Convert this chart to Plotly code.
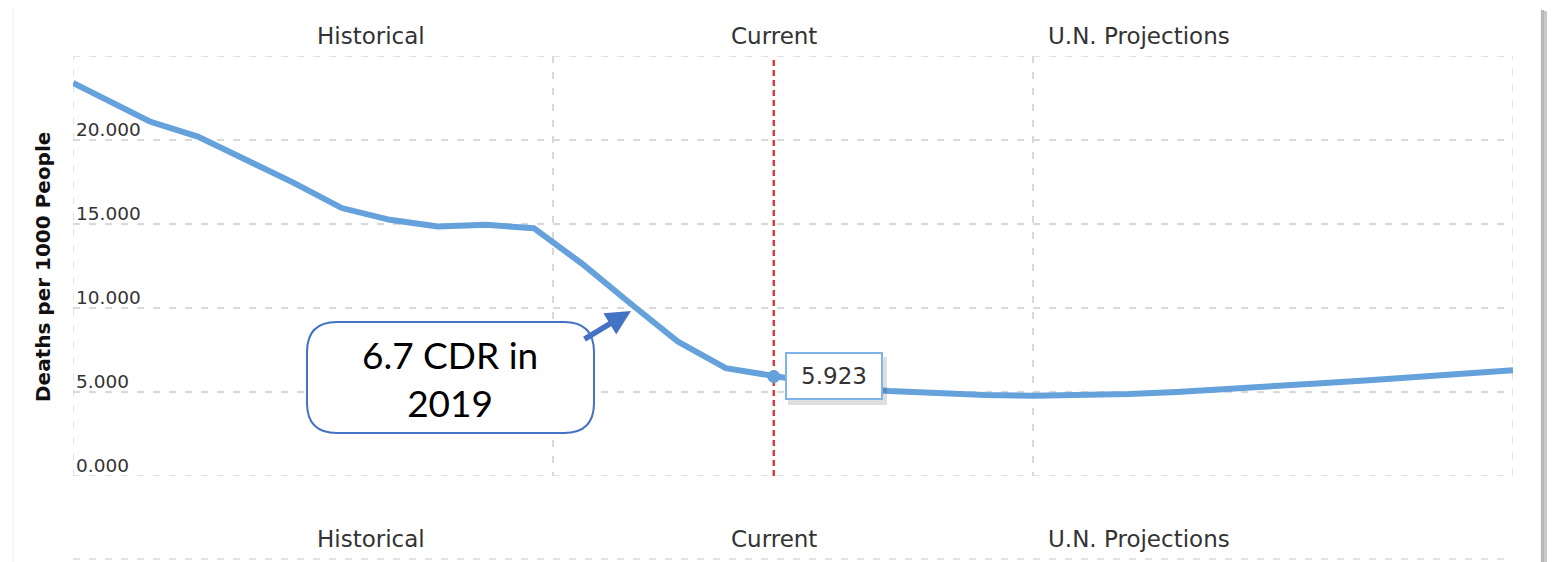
import plotly.graph_objects as go

# ---------------- data ----------------
years = [1950, 1958, 1963, 1968, 1973, 1978, 1983, 1988, 1993, 1998,
         2003, 2008, 2013, 2018, 2023, 2025, 2030, 2035, 2040, 2045,
         2050, 2055, 2060, 2065, 2070, 2075, 2080, 2085, 2090, 2095, 2100]
death_rate = [23.4, 21.1, 20.2, 18.8, 17.45, 15.95, 15.25, 14.85, 14.95, 14.75,
              12.65, 10.3, 8.0, 6.42, 5.923, 5.72, 5.3, 5.06, 4.93, 4.82,
              4.78, 4.8, 4.88, 5.0, 5.15, 5.32, 5.52, 5.7, 5.92, 6.1, 6.3]
current_year = 2023
current_value = 5.923
y_ticks = [0, 5, 10, 15, 20, 25]
y_tick_text = ["0.000", "5.000", "10.000", "15.000", "20.000", ""]
x_grid = [1950, 2000, 2050, 2100]
band_labels = ["Historical", "Current", "U.N. Projections"]
band_label_x = [1981, 2023, 2061]
callout_text = "6.7 CDR in<br>2019"
y_title = "Deaths per 1000 People"

# ---------------- layout geometry (page pixels, body has 8px margin) ----------------
OFF = 8
W, H = 1555 - OFF, 562 - OFF
PL, PR, PT, PB = 73, 1513, 56, 476          # plot area in page pixels
ML, MT = PL - OFF, PT - OFF
MR = W - (PR - OFF)
MB = H - (PB - OFF)
PW = PR - PL
PH = PB - PT


def px(x):
    return (x - PL) / PW


def py(y):
    return (PB - y) / PH


LINE_COLOR = "#65A1DB"
GRID_COLOR = "#d9d9d9"
GRID_DASH = "7px,9px"
TXT = "DejaVu Sans"

fig = go.Figure()
fig.add_trace(go.Scatter(
    x=years, y=death_rate, mode="lines",
    line=dict(color=LINE_COLOR, width=6),
    hoverinfo="skip", showlegend=False,
))
fig.add_trace(go.Scatter(
    x=[current_year], y=[current_value], mode="markers",
    marker=dict(color=LINE_COLOR, size=13, symbol="circle"),
    hoverinfo="skip", showlegend=False,
))

shapes = []
# card border
shapes.append(dict(type="rect", xref="paper", yref="paper",
                   x0=px(13), x1=px(1541), y0=py(620), y1=py(5),
                   line=dict(color="#ededed", width=1), layer="below"))
# card shadow on the right
for i, c in enumerate(["#b8b8b8", "#c8c8c8", "#d8d8d8", "#e8e8e8"]):
    shapes.append(dict(type="rect", xref="paper", yref="paper",
                       x0=px(1541 + 3 * i), x1=px(1544 + 3 * i),
                       y0=py(620), y1=py(10 + i),
                       line=dict(width=0), fillcolor=c, layer="below"))
# frame gridlines at the range edges
for yv in (y_ticks[0], y_ticks[-1]):
    shapes.append(dict(type="line", xref="paper", yref="y", x0=0, x1=1,
                       y0=yv, y1=yv, layer="below",
                       line=dict(color=GRID_COLOR, width=1.5, dash=GRID_DASH)))
for xv in (x_grid[0], x_grid[-1]):
    shapes.append(dict(type="line", xref="x", yref="paper", x0=xv, x1=xv,
                       y0=0, y1=1, layer="below",
                       line=dict(color=GRID_COLOR, width=1.5, dash=GRID_DASH)))
# current year vertical line
shapes.append(dict(type="line", xref="x", yref="paper",
                   x0=current_year, x1=current_year, y0=0, y1=1,
                   line=dict(color="#d23c3c", width=2.5, dash="6px,4px"),
                   layer="between"))
# lower (cropped) second chart gridline
shapes.append(dict(type="line", xref="paper", yref="paper",
                   x0=0, x1=1, y0=py(559), y1=py(559),
                   line=dict(color=GRID_COLOR, width=1.5, dash=GRID_DASH)))

# rounded callout box
bx0, bx1, by0, by1, r = 307, 594, 322, 433, 30
pts = [
    ("M", (bx0 + r, by0)), ("L", (bx1 - r, by0)),
    ("Q", (bx1, by0), (bx1, by0 + r)), ("L", (bx1, by1 - r)),
    ("Q", (bx1, by1), (bx1 - r, by1)), ("L", (bx0 + r, by1)),
    ("Q", (bx0, by1), (bx0, by1 - r)), ("L", (bx0, by0 + r)),
    ("Q", (bx0, by0), (bx0 + r, by0)),
]
path = ""
for item in pts:
    cmd = item[0]
    path += cmd + " " + " ".join(f"{px(a):.5f},{py(b):.5f}" for a, b in item[1:]) + " "
path += "Z"
shapes.append(dict(type="path", xref="paper", yref="paper", path=path,
                   fillcolor="white", line=dict(color="#4472C4", width=2),
                   layer="above"))
# tooltip shadow
shapes.append(dict(type="rect", xref="paper", yref="paper",
                   x0=px(788), x1=px(887), y0=py(405), y1=py(357),
                   fillcolor="rgba(0,0,0,0.13)", line=dict(width=0),
                   layer="above"))

annotations = []
# y tick labels: inside the plot, just above each gridline
for yv, lab in zip(y_ticks, y_tick_text):
    if lab:
        annotations.append(dict(x=px(75), xref="paper", y=yv, yref="y",
                                text=lab, showarrow=False,
                                xanchor="left", yanchor="bottom", yshift=-1,
                                borderpad=0,
                                font=dict(family=TXT, size=18.5, color="#333333")))
# band labels top and bottom
for lab, xv in zip(band_labels, band_label_x):
    for yy in (36, 539):
        annotations.append(dict(x=xv, xref="x", y=py(yy), yref="paper",
                                text=lab, showarrow=False,
                                xanchor="center", yanchor="middle",
                                font=dict(family=TXT, size=23, color="#333333")))
# y axis title
annotations.append(dict(x=px(43), xref="paper", y=py(267), yref="paper",
                        text=f"<b>{y_title}</b>", textangle=-90, showarrow=False,
                        xanchor="center", yanchor="middle",
                        font=dict(family=TXT, size=20, color="#111111")))
# callout text
annotations.append(dict(x=px(450), xref="paper", y=py(378), yref="paper",
                        text=callout_text, showarrow=False,
                        xanchor="center", yanchor="middle",
                        font=dict(family="Lato", size=37, color="#000000")))
# callout arrow
annotations.append(dict(x=px(631), xref="paper", y=py(311), yref="paper",
                        ax=-48, ay=29, axref="pixel", ayref="pixel",
                        text="", showarrow=True, arrowhead=2, arrowsize=0.9,
                        arrowwidth=5.5, arrowcolor="#4472C4", standoff=0))
# tooltip
annotations.append(dict(x=current_year, xref="x", y=current_value, yref="y",
                        text=f"{current_value:.3f}", showarrow=False,
                        xanchor="left", yanchor="middle", xshift=11,
                        width=80, height=30, borderpad=7,
                        bgcolor="white", bordercolor="#7db4e8", borderwidth=2,
                        font=dict(family=TXT, size=23, color="#333333")))

fig.update_layout(
    width=W, height=H,
    margin=dict(l=ML, r=MR, t=MT, b=MB, autoexpand=False),
    paper_bgcolor="white", plot_bgcolor="white",
    shapes=shapes, annotations=annotations,
    showlegend=False,
    xaxis=dict(range=[1950, 2100], tickvals=x_grid, showticklabels=False,
               showgrid=True, gridcolor=GRID_COLOR, gridwidth=1.5,
               griddash=GRID_DASH, zeroline=False, showline=False, ticks=""),
    yaxis=dict(range=[0, 25], tickvals=y_ticks, showticklabels=False,
               showgrid=True, gridcolor=GRID_COLOR, gridwidth=1.5,
               griddash=GRID_DASH, zeroline=False, showline=False, ticks=""),
)

fig.write_html("out.html")
